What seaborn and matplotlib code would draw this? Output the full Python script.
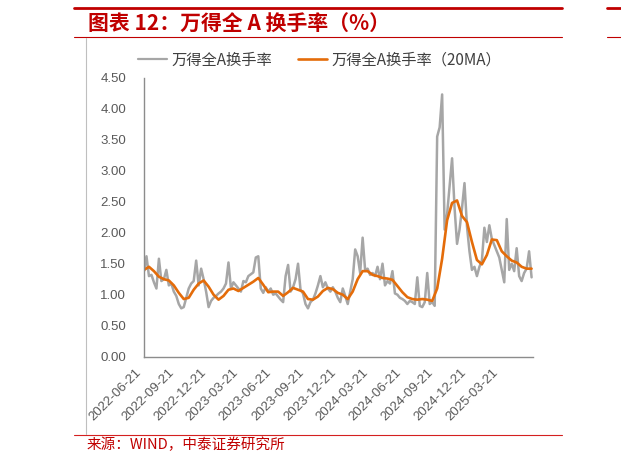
import numpy as np
import pandas as pd
import matplotlib
matplotlib.use("Agg")
import matplotlib.pyplot as plt
import seaborn as sns
from matplotlib.lines import Line2D
from matplotlib.ticker import FormatStrFormatter

# data (weekly turnover, bi-weekly 20MA)
start_date = "2022-06-21"
turnover = [
    1.38, 1.62, 1.30, 1.32, 1.20, 1.10, 1.58, 1.22, 1.25, 1.40,
    1.15, 1.18, 1.05, 0.98, 0.85, 0.78, 0.80, 0.95, 1.10, 1.18,
    1.22, 1.55, 1.15, 1.42, 1.25, 1.05, 0.80, 0.90, 0.95, 0.98,
    1.02, 1.05, 1.10, 1.18, 1.52, 1.10, 1.20, 1.15,
    1.10, 1.05, 1.22, 1.20, 1.30, 1.33, 1.36, 1.60, 1.62, 1.10,
    1.03, 1.12, 1.05, 1.10, 1.00, 1.02, 0.97, 0.92, 0.88, 1.30,
    1.48, 1.05, 1.12, 1.25, 1.50, 1.08, 1.02, 0.85, 0.78, 0.88,
    0.92, 1.02, 1.15, 1.30, 1.12, 1.20, 1.10, 1.05, 1.12,
    1.05, 0.95, 0.88, 1.10, 0.98, 0.85, 1.05, 1.25, 1.73, 1.62,
    1.35, 1.92, 1.40, 1.42, 1.32, 1.35, 1.30, 1.45, 1.25, 1.50,
    1.15, 1.22, 1.18, 1.38, 1.02, 1.00, 0.95, 0.93, 0.90, 0.85,
    0.90, 0.88, 0.85, 1.28, 0.82, 0.80, 0.88, 1.35, 0.85,
    0.88, 0.82, 3.55, 3.70, 4.23, 2.05, 2.30, 2.75, 3.20, 2.40,
    1.82, 2.05, 2.40, 2.80, 2.10, 1.70, 1.40, 1.45, 1.30, 1.45,
    1.55, 2.08, 1.85, 2.12, 1.90, 1.80, 1.70, 1.60, 1.40, 1.20,
    2.22, 1.40, 1.50, 1.38, 1.75, 1.30, 1.22, 1.35, 1.42, 1.70,
    1.28,
]
turnover_ma20 = [
    1.40, 1.45, 1.38, 1.29, 1.25, 1.23, 1.15, 1.03, 0.93, 0.95,
    1.08, 1.18, 1.23, 1.13, 1.00, 0.92, 0.98, 1.08, 1.10, 1.06,
    1.11, 1.16, 1.21, 1.27, 1.16, 1.04, 1.05, 1.05, 0.98, 1.04,
    1.11, 1.08, 1.05, 0.93, 0.92, 0.97, 1.06, 1.11, 1.09, 1.03,
    1.00, 0.93, 1.05, 1.25, 1.38, 1.38, 1.32, 1.30, 1.27, 1.26,
    1.24, 1.14, 1.04, 0.96, 0.93, 0.92, 0.93, 0.92, 0.90, 1.10,
    1.58, 2.20, 2.48, 2.52, 2.27, 2.17, 1.85, 1.56, 1.49, 1.64,
    1.89, 1.88, 1.70, 1.62, 1.55, 1.52, 1.45, 1.42, 1.42,
]
tick_dates = [
    "2022-06-21", "2022-09-21", "2022-12-21", "2023-03-21", "2023-06-21",
    "2023-09-21", "2023-12-21", "2024-03-21", "2024-06-21", "2024-09-21",
    "2024-12-21", "2025-03-21", "2025-06-21",
]
tick_labels = tick_dates[:-1] + [""]
yticks = [0, 0.5, 1.0, 1.5, 2.0, 2.5, 3.0, 3.5, 4.0, 4.5]

raw_df = pd.DataFrame({"date": pd.date_range(start_date, periods=len(turnover), freq="7D"),
                       "value": turnover})
ma_df = pd.DataFrame({"date": pd.date_range(start_date, periods=len(turnover_ma20), freq="14D"),
                      "value": turnover_ma20})

sns.set_style("white")
plt.rcParams["font.family"] = ["Noto Sans CJK SC", "DejaVu Sans"]

W, H = 621, 465
fig = plt.figure(figsize=(W / 100, H / 100), dpi=100)
ax = fig.add_axes([144 / W, 1 - 356.7 / H, 389 / W, 279 / H])

GRAY = "#A6A6A6"
ORANGE = "#E46C0A"
RED = "#C00000"
AXIS = "#8C8C8C"

sns.lineplot(data=raw_df, x="date", y="value", ax=ax, color=GRAY, lw=1.8)
sns.lineplot(data=ma_df, x="date", y="value", ax=ax, color=ORANGE, lw=1.9)

ax.set_xlim(pd.Timestamp(tick_dates[0]), pd.Timestamp(tick_dates[-1]))
ax.set_ylim(0, 4.5)
ax.set_yticks(yticks)
ax.yaxis.set_major_formatter(FormatStrFormatter("%.2f"))
ax.set_xticks(pd.to_datetime(tick_dates))
ax.set_xticklabels(tick_labels, rotation=45, ha="right")
ax.set_xlabel("")
ax.set_ylabel("")
for lab in ax.get_xticklabels() + ax.get_yticklabels():
    lab.set_family(["Liberation Sans", "DejaVu Sans"])
    lab.set_fontsize(9.5)
ax.spines[["top", "right"]].set_visible(False)
for s in ["left", "bottom"]:
    ax.spines[s].set_color(AXIS)
    ax.spines[s].set_linewidth(1.0)
ax.tick_params(axis="both", direction="out", length=4, width=1, color=AXIS, labelcolor="#595959")
ax.tick_params(axis="y", pad=9)
ax.tick_params(axis="x", pad=3)
ax.grid(False)

# legend across the top
handles = [Line2D([], [], color=GRAY, lw=1.6), Line2D([], [], color=ORANGE, lw=1.9)]
fig.legend(handles, ["万得全A换手率", "万得全A换手率（20MA）"], loc="center",
           bbox_to_anchor=(319.5 / W, 1 - 60 / H), ncol=2, frameon=False,
           fontsize=11, handlelength=1.9, handletextpad=0.3, columnspacing=1.7,
           labelcolor="#404040")

# report frame: red rules, title, source
def hline(x0, x1, y, lw, color):
    fig.add_artist(Line2D([x0 / W, x1 / W], [1 - y / H, 1 - y / H],
                          transform=fig.transFigure, color=color, lw=lw))

hline(74, 562, 7.8, 2.0, RED)
hline(607, 621, 7.8, 2.0, RED)
hline(74, 562, 37.3, 0.8, RED)
hline(607, 621, 37.3, 0.8, RED)
hline(74, 562, 434.7, 0.8, "#D42020")
fig.add_artist(Line2D([86 / W, 86 / W], [1 - 38 / H, 1 - 434 / H],
                      transform=fig.transFigure, color="#BFBFBF", lw=0.8))

fig.text(88 / W, 1 - 24 / H, "图表 12：万得全 A 换手率（%）", color=RED,
         fontsize=15, fontweight="bold", va="center", ha="left")
fig.text(87 / W, 1 - 445 / H, "来源：WIND，中泰证券研究所", color=RED,
         fontsize=10.5, va="center", ha="left")

fig.savefig("out.png", dpi=100)
